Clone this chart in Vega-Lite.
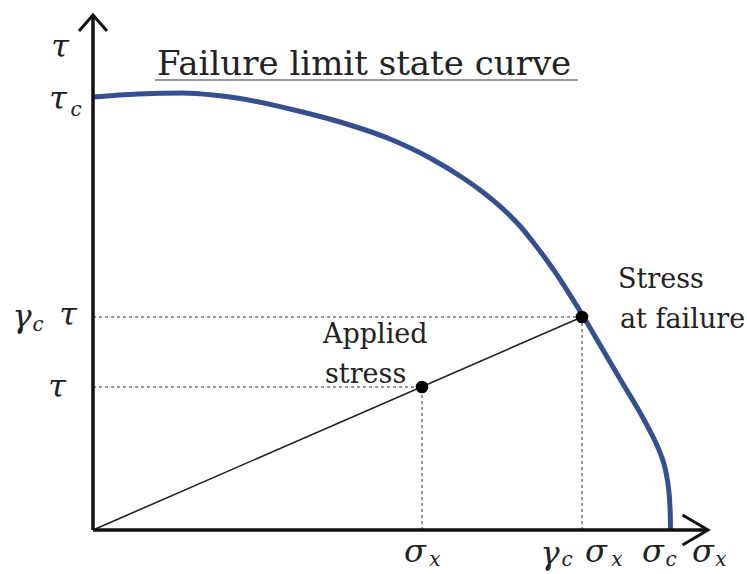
{
  "$schema": "https://vega.github.io/schema/vega-lite/v6.json",
  "width": 615,
  "height": 515,
  "autosize": "none",
  "padding": {"left": 93, "top": 15, "right": 39, "bottom": 44},
  "background": "white",
  "config": {"view": {"stroke": null}},
  "datasets": {
    "curve": [
      {"x": 0, "y": 433}, {"x": 45, "y": 436}, {"x": 90, "y": 437}, {"x": 120, "y": 435},
      {"x": 147, "y": 431.5}, {"x": 197, "y": 421}, {"x": 247, "y": 408}, {"x": 297, "y": 391},
      {"x": 337, "y": 372}, {"x": 370, "y": 352}, {"x": 387, "y": 340}, {"x": 410, "y": 321},
      {"x": 427, "y": 304}, {"x": 440, "y": 288}, {"x": 460, "y": 261}, {"x": 490, "y": 214},
      {"x": 510, "y": 180}, {"x": 530, "y": 146}, {"x": 545, "y": 121}, {"x": 557, "y": 99},
      {"x": 563, "y": 87}, {"x": 568, "y": 75}, {"x": 571, "y": 66}, {"x": 573.5, "y": 55},
      {"x": 575.5, "y": 42}, {"x": 576.7, "y": 28}, {"x": 577.3, "y": 14}, {"x": 577.5, "y": 0}
    ],
    "axes": [
      {"x": 0, "y": 0, "x2": 613, "y2": 0},
      {"x": 0, "y": 0, "x2": 0, "y2": 513}
    ],
    "guides": [
      {"x": 0, "y": 213, "x2": 489, "y2": 213},
      {"x": 0, "y": 143, "x2": 329, "y2": 143},
      {"x": 329, "y": 0, "x2": 329, "y2": 143},
      {"x": 489, "y": 0, "x2": 489, "y2": 213}
    ],
    "load": [{"x": 0, "y": 0, "x2": 489, "y2": 213}],
    "underline": [{"x": 62, "y": 450, "x2": 485, "y2": 450}],
    "points": [
      {"x": 329, "y": 143, "name": "Applied stress"},
      {"x": 489, "y": 213, "name": "Stress at failure"}
    ],
    "uptip": [{"x": 0, "y": 515}],
    "righttip": [{"x": 615, "y": 0}],
    "greek": [
      {"x": -33, "y": 483, "text": "τ"},
      {"x": -35, "y": 431, "text": "τ"},
      {"x": -71, "y": 213, "text": "γ"},
      {"x": -25, "y": 215, "text": "τ"},
      {"x": -36, "y": 143, "text": "τ"},
      {"x": 322, "y": -22, "text": "σ"},
      {"x": 457, "y": -24, "text": "γ"},
      {"x": 503, "y": -22, "text": "σ"},
      {"x": 560, "y": -22, "text": "σ"},
      {"x": 610, "y": -22, "text": "σ"}
    ],
    "subs": [
      {"x": -17, "y": 420, "text": "c"},
      {"x": -55, "y": 205, "text": "c"},
      {"x": 342, "y": -30, "text": "x"},
      {"x": 474, "y": -30, "text": "c"},
      {"x": 524, "y": -30, "text": "x"},
      {"x": 578, "y": -30, "text": "c"},
      {"x": 628, "y": -30, "text": "x"}
    ],
    "notes": [
      {"x": 525, "y": 250, "text": "Stress"},
      {"x": 527, "y": 210, "text": "at failure"},
      {"x": 230, "y": 195, "text": "Applied"},
      {"x": 232, "y": 155, "text": "stress"}
    ],
    "title": [{"x": 64, "y": 455, "text": "Failure limit state curve"}]
  },
  "encoding": {
    "x": {"field": "x", "type": "quantitative", "axis": null, "scale": {"domain": [0, 615], "nice": false, "zero": false}},
    "y": {"field": "y", "type": "quantitative", "axis": null, "scale": {"domain": [0, 515], "nice": false, "zero": false}}
  },
  "layer": [
    {
      "data": {"name": "guides"},
      "mark": {"type": "rule", "stroke": "#777777", "strokeWidth": 1.5, "strokeDash": [3, 3]},
      "encoding": {"x2": {"field": "x2"}, "y2": {"field": "y2"}}
    },
    {
      "data": {"name": "load"},
      "mark": {"type": "rule", "stroke": "#222222", "strokeWidth": 1.6},
      "encoding": {"x2": {"field": "x2"}, "y2": {"field": "y2"}}
    },
    {
      "data": {"name": "underline"},
      "mark": {"type": "rule", "stroke": "#999999", "strokeWidth": 2},
      "encoding": {"x2": {"field": "x2"}, "y2": {"field": "y2"}}
    },
    {
      "data": {"name": "curve"},
      "mark": {"type": "line", "stroke": "#34508f", "strokeWidth": 5, "interpolate": "monotone"},
      "encoding": {}
    },
    {
      "data": {"name": "axes"},
      "mark": {"type": "rule", "stroke": "#111111", "strokeWidth": 3.5},
      "encoding": {"x2": {"field": "x2"}, "y2": {"field": "y2"}}
    },
    {
      "data": {"name": "uptip"},
      "mark": {"type": "point", "shape": "M -1 1.15 L 0 0 L 1 1.15", "size": 784, "filled": false, "stroke": "#111111", "strokeWidth": 3, "opacity": 1}
    },
    {
      "data": {"name": "righttip"},
      "mark": {"type": "point", "shape": "M -1.7 -1 L 0 0 L -1.7 1", "size": 900, "filled": false, "stroke": "#111111", "strokeWidth": 3, "opacity": 1}
    },
    {
      "data": {"name": "points"},
      "mark": {"type": "point", "filled": true, "fill": "#000000", "size": 160, "opacity": 1}
    },
    {
      "data": {"name": "greek"},
      "mark": {"type": "text", "font": "DejaVu Serif", "fontStyle": "italic", "fontSize": 32, "align": "center", "baseline": "middle", "fill": "#222222"},
      "encoding": {"text": {"field": "text"}}
    },
    {
      "data": {"name": "subs"},
      "mark": {"type": "text", "font": "DejaVu Serif", "fontStyle": "italic", "fontSize": 20, "align": "center", "baseline": "middle", "fill": "#222222"},
      "encoding": {"text": {"field": "text"}}
    },
    {
      "data": {"name": "notes"},
      "mark": {"type": "text", "font": "DejaVu Serif", "fontSize": 27, "align": "left", "baseline": "middle", "fill": "#222222"},
      "encoding": {"text": {"field": "text"}}
    },
    {
      "data": {"name": "title"},
      "mark": {"type": "text", "font": "DejaVu Serif", "fontSize": 34, "align": "left", "baseline": "alphabetic", "fill": "#222222"},
      "encoding": {"text": {"field": "text"}}
    }
  ]
}
